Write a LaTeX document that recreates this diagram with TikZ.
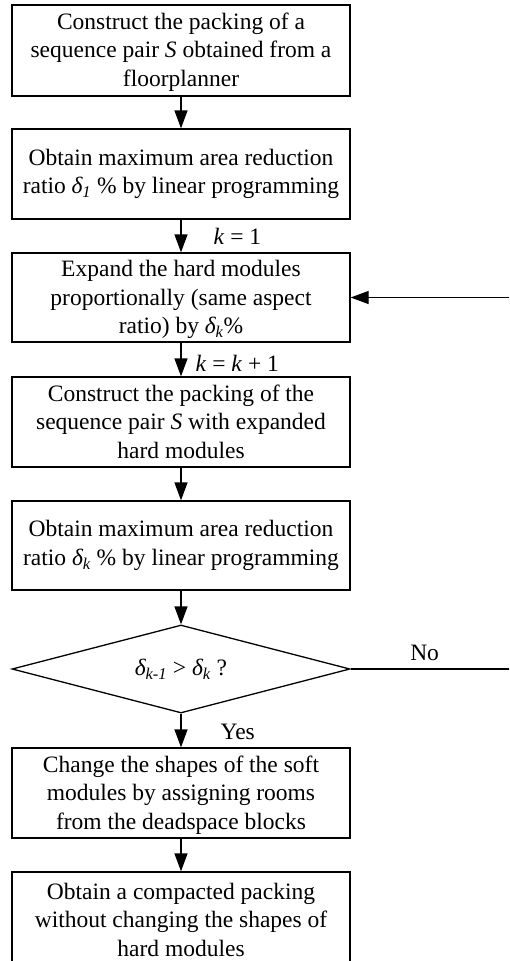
\documentclass[tikz,border=0pt]{standalone}
\usepackage{fontspec}
\setmainfont{Liberation Serif}
\usetikzlibrary{arrows.meta,shapes.geometric}
\newcommand{\dk}[1]{\textit{δ}\textsubscript{\kern-0.5pt\textit{#1}}}
\begin{document}
\begin{tikzpicture}[x=1pt,y=-1pt,
  every node/.style={font=\fontsize{23.5}{28.5}\selectfont},
  stepbox/.style={draw,line width=1.3pt,minimum width=338pt,align=center,inner sep=0pt},
  conn/.style={line width=1.3pt,-{Triangle[length=18pt,width=13pt]}},
  lbl/.style={anchor=west,inner sep=0pt},
  plainline/.style={line width=1.3pt}]
\useasboundingbox (0,0) rectangle (509,961);
\clip (0,0) rectangle (509,961);
\node[stepbox,minimum height=91pt,text depth=2pt] (b1) at (181,50.5) {Construct the packing of a\\sequence pair \textit{S} obtained from a\\floorplanner};
\node[stepbox,minimum height=90pt] (b2) at (181,174) {Obtain maximum area reduction\\ratio \dk{1} \% by linear programming};
\node[stepbox,minimum height=89pt,text depth=1pt] (b3) at (181,297.5) {Expand the hard modules\\proportionally (same aspect\\ratio) by \dk{k}\%};
\node[stepbox,minimum height=90pt,text depth=1pt] (b4) at (181,422) {Construct the packing of the\\sequence pair \textit{S} with expanded\\hard modules};
\node[stepbox,minimum height=89pt] (b5) at (181,545.5) {Obtain maximum area reduction\\ratio \dk{k} \% by linear programming};
\node[draw,line width=1.3pt,diamond,aspect=3.9,minimum width=338pt,minimum height=88pt,inner sep=0pt] (d) at (181,669) {\dk{k-1} > \dk{k} ?};
\node[stepbox,minimum height=90pt,text depth=1pt] (b6) at (181,793) {Change the shapes of the soft\\modules by assigning rooms\\from the deadspace blocks};
\node[stepbox,minimum height=96pt,text depth=1pt] (b7) at (181,920) {Obtain a compacted packing\\without changing the shapes of\\hard modules};
\coordinate (noend) at (515,669);
\coordinate (loopend) at (515,297.5);
\draw[conn] (b1) -- (b2);
\draw[conn] (b2) -- node[lbl,xshift=32pt,pos=0.5] {\textit{k} = 1} (b3);
\draw[conn] (b3) -- node[lbl,xshift=14pt,pos=0.6] {\textit{k} = \textit{k} + 1} (b4);
\draw[conn] (b4) -- (b5);
\draw[conn] (b5) -- (d);
\draw[conn] (d) -- node[lbl,xshift=39pt,pos=0.55] {Yes} (b6);
\draw[conn] (b6) -- (b7);
\draw[plainline] (d.east) -- node[above=4pt,pos=0.45] {No} (noend);
\draw[conn] (loopend) -- (b3.east);
\end{tikzpicture}
\end{document}
